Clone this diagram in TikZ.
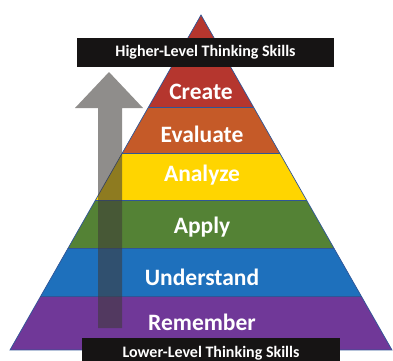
\documentclass[tikz,border=0pt]{standalone}
\usepackage{fontspec}
\setmainfont{Carlito}
\usetikzlibrary{positioning}
\usepackage{xcolor}

\definecolor{createred}{RGB}{181,54,46}
\definecolor{evalorange}{RGB}{197,90,40}
\definecolor{analyzeyellow}{RGB}{255,213,0}
\definecolor{applygreen}{RGB}{84,130,53}
\definecolor{understandblue}{RGB}{30,112,188}
\definecolor{rememberpurple}{RGB}{112,56,152}
\definecolor{edgeblue}{RGB}{47,85,151}
\definecolor{barblack}{RGB}{22,20,20}
\definecolor{arrowgray}{RGB}{62,58,56}

\tikzset{
  edge/.style={draw=edgeblue, line width=0.7pt},
  level/.style={text=white, font=\bfseries\fontsize{23.5}{26}\selectfont},
  skills/.style={fill=barblack, text=white, inner sep=0pt,
    font=\bfseries\fontsize{16}{18}\selectfont}
}

\begin{document}
\begin{tikzpicture}[x=1pt,y=-1pt]
  \useasboundingbox (0,0) rectangle (393,360);

  % Pyramid corners
  \coordinate (top) at (201,15);
  \coordinate (bl) at (10,350);
  \coordinate (br) at (392,350);

  % Coloured bands, clipped to the triangle
  \begin{scope}
    \clip (top) -- (bl) -- (br) -- cycle;
    \foreach \ya/\yb/\col in {0/107/createred, 107/153/evalorange,
        153/200/analyzeyellow, 200/248/applygreen,
        248/296/understandblue, 296/350/rememberpurple}
      \fill[\col] (0,\ya) rectangle (393,\yb);
    \foreach \y in {107,153,200,248,296}
      \draw[edge] (0,\y) -- (393,\y);
  \end{scope}
  \draw[edge] (top) -- (bl) -- (br) -- cycle;

  % Level names
  \node[level] (create) at (201,92) {Create};
  \node[level] (evaluate) at (202,134) {Evaluate};
  \node[level] (analyze) at (202,175) {Analyze};
  \node[level] (apply) at (202,227) {Apply};
  \node[level] (understand) at (202,277) {Understand};
  \node[level] (remember) at (202,322) {Remember};

  % See-through arrow pointing up
  \fill[arrowgray, fill opacity=0.58]
    (109,72) -- (143,108) -- (122,108) -- (122,328)
    -- (98,328) -- (98,108) -- (75,108) -- cycle;

  % Black captions
  \node[skills, minimum width=257pt, minimum height=29pt] (higher)
    at (205.5,52.5) {Higher-Level Thinking Skills};
  \node[skills, minimum width=258pt, minimum height=30pt] (lower)
    at (211,353) {Lower-Level Thinking Skills};
\end{tikzpicture}
\end{document}
